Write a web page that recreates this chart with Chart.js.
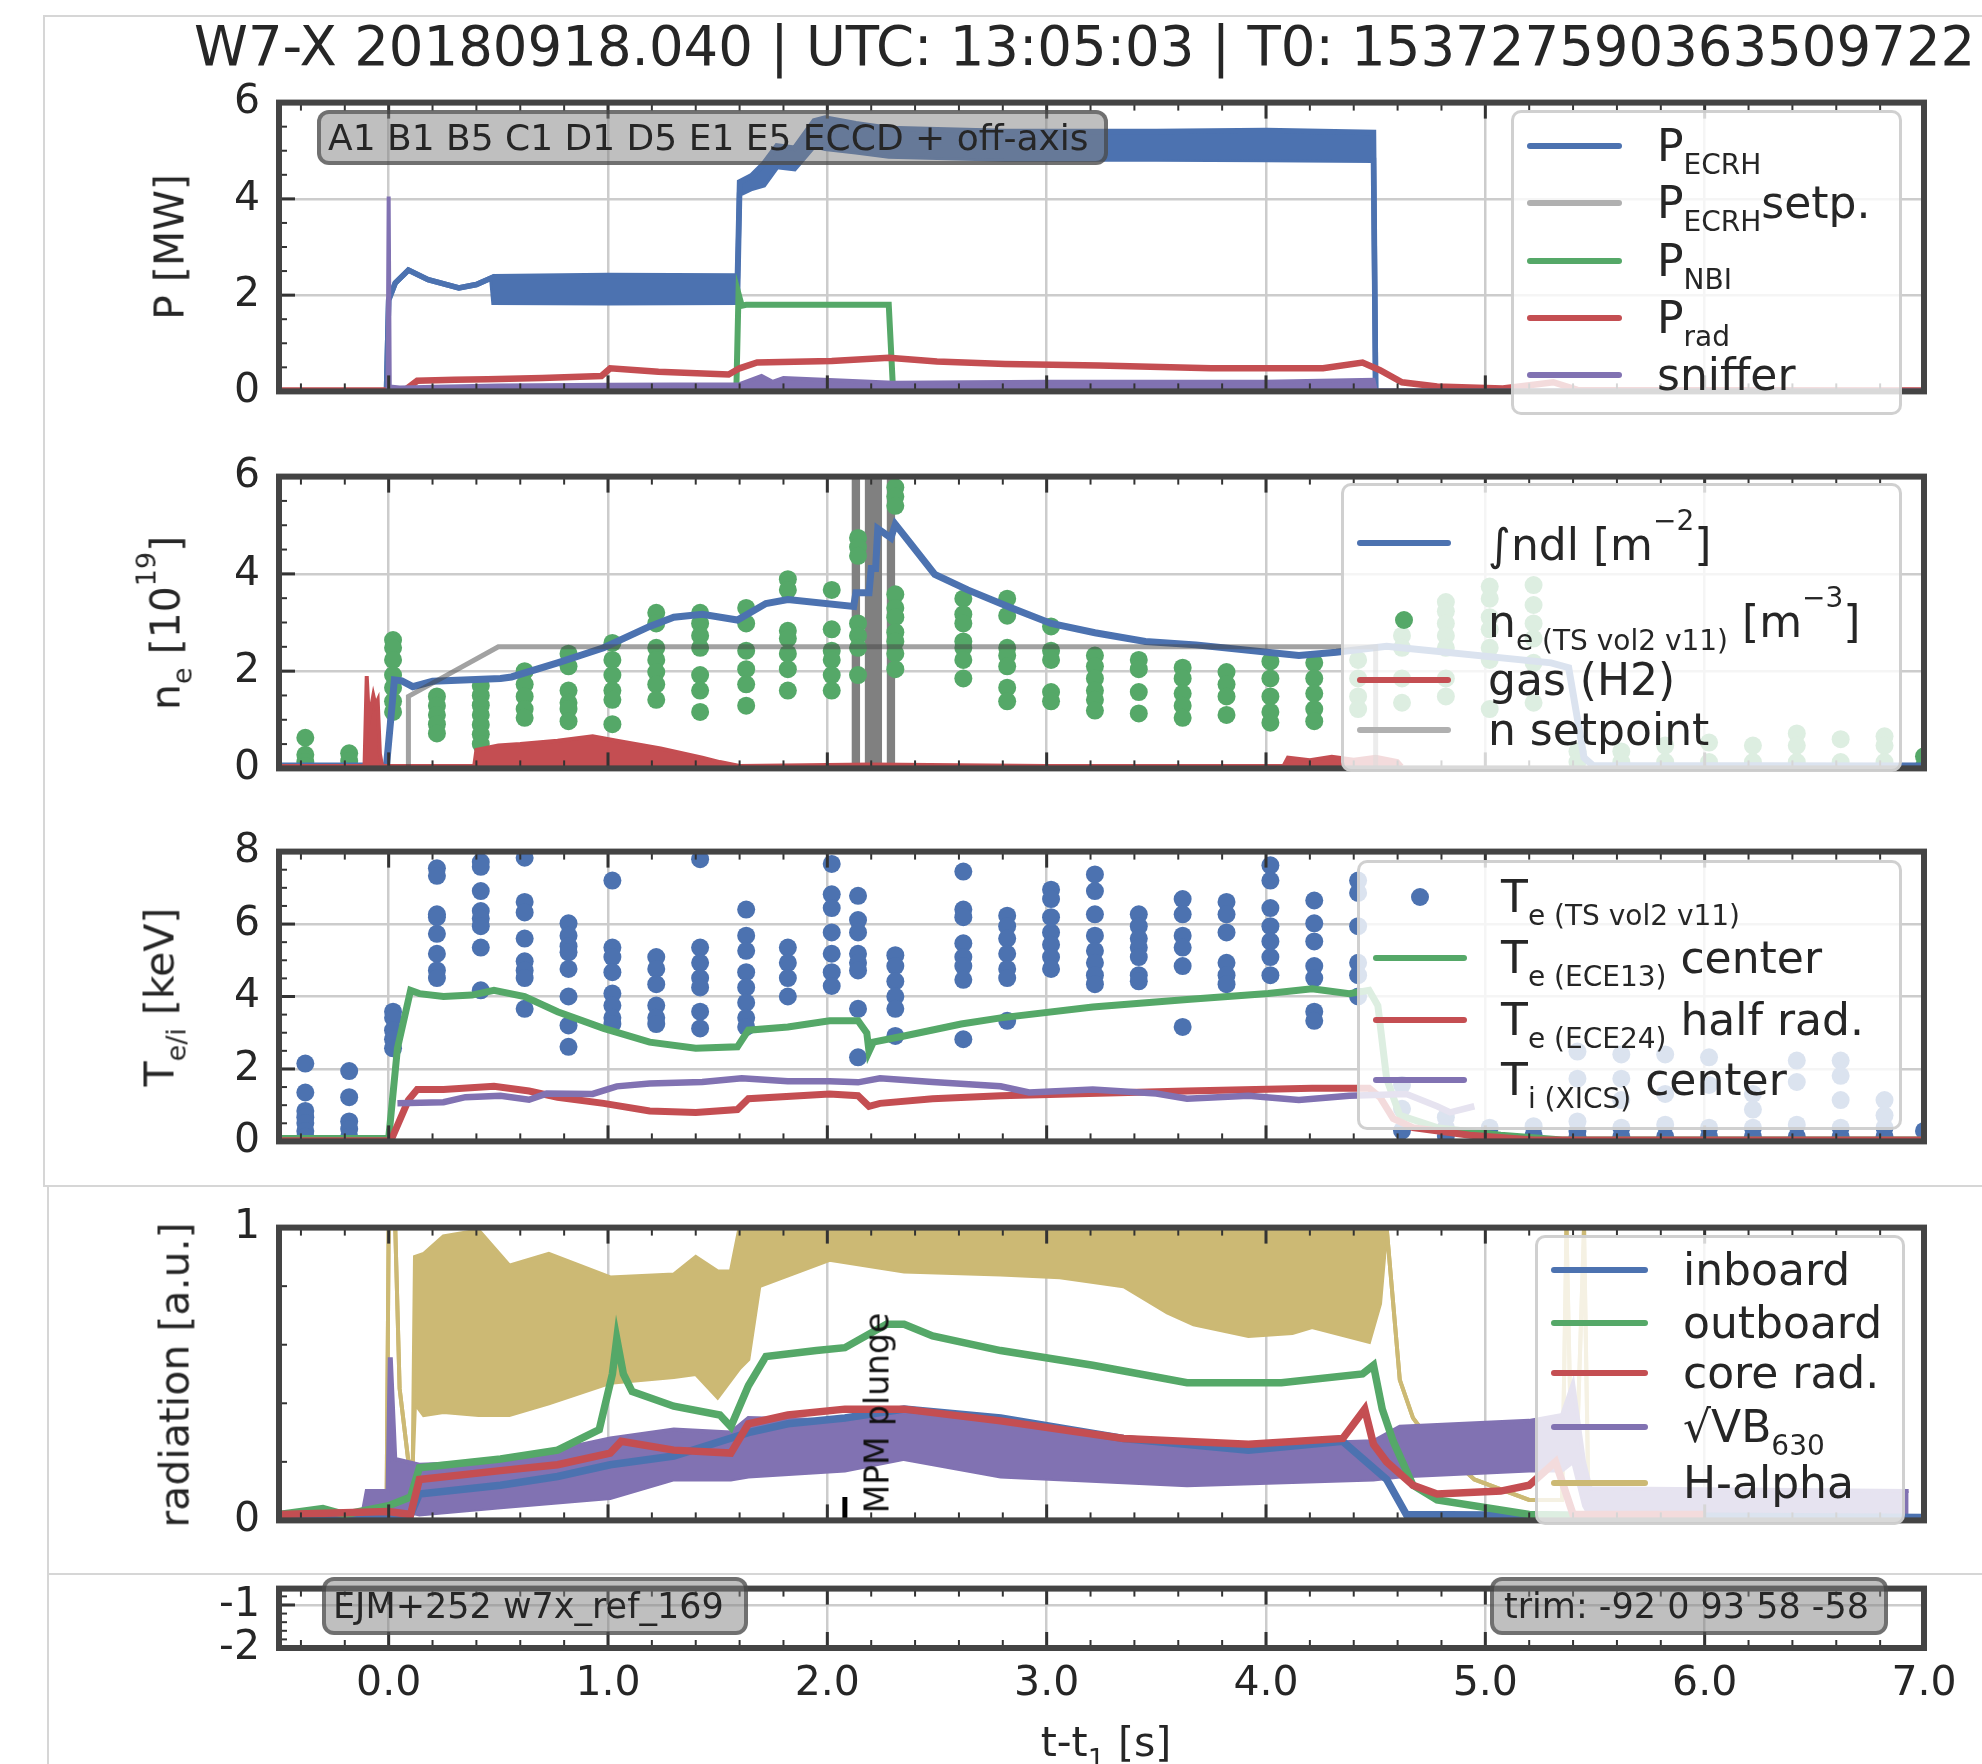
<!DOCTYPE html>
<html>
<head>
<meta charset="utf-8">
<title>W7-X 20180918.040</title>
<script src="https://cdn.jsdelivr.net/npm/chart.js@4.4.1/dist/chart.umd.min.js"></script>
<style>
  html, body { margin: 0; padding: 0; background: #fff; }
  #fig { position: relative; width: 1982px; height: 1764px; overflow: hidden;
         font-family: 'DejaVu Sans', sans-serif; color: #262626; }
  #fig canvas { position: absolute; left: 0; z-index: 1; }
  .sep { position: absolute; background: #d6d6d6; z-index: 0; }
  .ov { position: absolute; z-index: 5; white-space: nowrap; }
  .title { font-size: 54.5px; line-height: 54px; }
  .ylab { font-size: 41px; line-height: 41px; transform: translate(-50%, -50%) rotate(-90deg); }
  .xlab { font-size: 41px; line-height: 41px; transform: translate(-50%, -50%); }
  .ysub { font-size: 27px; line-height: 0; vertical-align: -12px; }
  .ysup { font-size: 27px; line-height: 0; vertical-align: 24px; }
  .lg { position: absolute; z-index: 5; background: rgba(255,255,255,0.8);
        border: 3px solid rgba(200,200,200,0.85); border-radius: 10px; box-sizing: border-box; }
  .en { position: absolute; z-index: 6; font-size: 44px; line-height: 44px; white-space: nowrap; }
  .hd { position: absolute; z-index: 6; height: 6px; border-radius: 3px; }
  .mk { position: absolute; z-index: 6; width: 18px; height: 18px; border-radius: 50%; }
  .sub { font-size: 28px; line-height: 0; vertical-align: -13px; }
  .sup { font-size: 28px; line-height: 0; vertical-align: 30px; }
  .note { position: absolute; z-index: 5; background: rgba(128,128,128,0.5);
          border: 4px solid rgba(60,60,60,0.6); border-radius: 12px; box-sizing: border-box;
          padding-left: 7px; white-space: nowrap; }
  .mpm { font-size: 33px; line-height: 33px; transform: translate(-50%, -50%) rotate(-90deg); color: #111; }
</style>
</head>
<body>
<div id="fig">
  <!-- light frame lines of the original figure -->
  <div class="sep" style="left:44px;top:15px;width:1938px;height:2px"></div>
  <div class="sep" style="left:43px;top:15px;width:2px;height:1172px"></div>
  <div class="sep" style="left:44px;top:1185px;width:1938px;height:2px"></div>
  <div class="sep" style="left:47px;top:1186px;width:2px;height:578px"></div>
  <div class="sep" style="left:48px;top:1573px;width:1934px;height:2px"></div>

  <div class="ov title" style="left:194px;top:19px">W7-X 20180918.040 | UTC: 13:05:03 | T0: 153727590363509722</div>

  <div class="ov ylab" style="left:170px;top:247px">P [MW]</div>
  <div class="ov ylab" style="left:166px;top:623px">n<span class="ysub">e</span> [10<span class="ysup">19</span>]</div>
  <div class="ov ylab" style="left:160px;top:997px">T<span class="ysub">e/i</span> [keV]</div>
  <div class="ov ylab" style="left:175px;top:1375px">radiation [a.u.]</div>
  <div class="ov xlab" style="left:1106px;top:1742px">t-t<span class="ysub">1</span> [s]</div>

  <div class="note" style="left:317px;top:110px;width:791px;height:55px;font-size:36px;line-height:47px">A1 B1 B5 C1 D1 D5 E1 E5 ECCD + off-axis</div>
  <div class="note" style="left:322px;top:1577px;width:426px;height:58px;font-size:35px;line-height:50px">EJM+252 w7x_ref_169</div>
  <div class="note" style="left:1490px;top:1577px;width:398px;height:58px;font-size:35px;line-height:50px;padding-left:10px">trim: -92 0 93 58 -58</div>

  <!-- legend: power -->
  <div class="lg" style="left:1511px;top:110px;width:391px;height:305px"></div>
  <div class="hd" style="left:1527px;top:143px;width:95px;background:#4c72b0"></div>
  <div class="en" style="left:1657px;top:124px">P<span class="sub">ECRH</span></div>
  <div class="hd" style="left:1527px;top:200px;width:95px;background:#b0b0b0"></div>
  <div class="en" style="left:1657px;top:181px">P<span class="sub">ECRH</span>setp.</div>
  <div class="hd" style="left:1527px;top:258px;width:95px;background:#55a868"></div>
  <div class="en" style="left:1657px;top:239px">P<span class="sub">NBI</span></div>
  <div class="hd" style="left:1527px;top:315px;width:95px;background:#c44e52"></div>
  <div class="en" style="left:1657px;top:296px">P<span class="sub">rad</span></div>
  <div class="hd" style="left:1527px;top:372px;width:95px;background:#8172b2"></div>
  <div class="en" style="left:1657px;top:353px">sniffer</div>

  <!-- legend: density -->
  <div class="lg" style="left:1341px;top:483px;width:561px;height:289px"></div>
  <div class="hd" style="left:1357px;top:540px;width:94px;background:#4c72b0"></div>
  <div class="en" style="left:1488px;top:521px">∫ndl [m<span class="sup">−2</span>]</div>
  <div class="mk" style="left:1395px;top:611px;background:#55a868"></div>
  <div class="en" style="left:1488px;top:598px">n<span class="sub">e (TS vol2 v11)</span> [m<span class="sup">−3</span>]</div>
  <div class="hd" style="left:1357px;top:677px;width:94px;background:#c44e52"></div>
  <div class="en" style="left:1488px;top:658px">gas (H2)</div>
  <div class="hd" style="left:1357px;top:727px;width:94px;background:#b0b0b0"></div>
  <div class="en" style="left:1488px;top:708px">n setpoint</div>

  <!-- legend: temperature -->
  <div class="lg" style="left:1357px;top:860px;width:545px;height:270px"></div>
  <div class="mk" style="left:1411px;top:888px;background:#4c72b0"></div>
  <div class="en" style="left:1501px;top:875px">T<span class="sub">e (TS vol2 v11)</span></div>
  <div class="hd" style="left:1373px;top:955px;width:94px;background:#55a868"></div>
  <div class="en" style="left:1501px;top:936px">T<span class="sub">e (ECE13)</span> center</div>
  <div class="hd" style="left:1373px;top:1017px;width:94px;background:#c44e52"></div>
  <div class="en" style="left:1501px;top:998px">T<span class="sub">e (ECE24)</span> half rad.</div>
  <div class="hd" style="left:1373px;top:1077px;width:94px;background:#8172b2"></div>
  <div class="en" style="left:1501px;top:1058px">T<span class="sub">i (XICS)</span> center</div>

  <!-- legend: radiation -->
  <div class="lg" style="left:1535px;top:1235px;width:370px;height:290px"></div>
  <div class="hd" style="left:1551px;top:1267px;width:97px;background:#4c72b0"></div>
  <div class="en" style="left:1683px;top:1248px">inboard</div>
  <div class="hd" style="left:1551px;top:1320px;width:97px;background:#55a868"></div>
  <div class="en" style="left:1683px;top:1301px">outboard</div>
  <div class="hd" style="left:1551px;top:1370px;width:97px;background:#c44e52"></div>
  <div class="en" style="left:1683px;top:1351px">core rad.</div>
  <div class="hd" style="left:1551px;top:1424px;width:97px;background:#8172b2"></div>
  <div class="en" style="left:1683px;top:1405px">√VB<span class="sub">630</span></div>
  <div class="hd" style="left:1551px;top:1480px;width:97px;background:#ccb974"></div>
  <div class="en" style="left:1683px;top:1461px">H-alpha</div>

  <div class="ov mpm" id="mpmLabel">MPM plunge</div>
</div>

<script>
// ---------------------------------------------------------------
// Data (time t - t1 in s)
// ---------------------------------------------------------------
const xTicks = [0, 1, 2, 3, 4, 5, 6, 7];

// Panel 1: heating power [MW]
const ecrhT  = [-0.5, -0.01, 0.0, 0.03, 0.09, 0.18, 0.32, 0.40, 0.47, 0.48, 1.0, 1.59, 1.60, 1.655, 1.71, 1.77, 1.85, 1.94, 1.99, 2.13, 2.28, 2.81, 3.5, 4.0, 4.49, 4.50, 7.0];
const ecrhHi = [0, 0, 1.9, 2.25, 2.52, 2.32, 2.15, 2.22, 2.36, 2.38, 2.41, 2.4, 4.35, 4.48, 4.73, 5.1, 5.05, 5.62, 5.68, 5.56, 5.46, 5.4, 5.4, 5.42, 5.38, 0, 0];
const ecrhLo = [0, 0, 1.9, 2.25, 2.52, 2.32, 2.15, 2.22, 2.36, 1.85, 1.84, 1.85, 4.1, 4.22, 4.29, 4.67, 4.63, 5.11, 5.05, 4.98, 4.89, 4.83, 4.83, 4.82, 4.8, 0, 0];
const nbiT   = [1.585, 1.595, 1.61, 1.63, 2.28, 2.30];
const nbiP   = [0, 2.03, 1.78, 1.8, 1.8, 0];
const pradT  = [-0.5, 0.05, 0.08, 0.13, 0.3, 0.45, 0.7, 0.97, 1.01, 1.23, 1.55, 1.6, 1.68, 2.02, 2.28, 2.5, 2.81, 3.24, 3.75, 4.26, 4.44, 4.52, 4.62, 4.78, 5.08, 5.31, 5.42, 7.0];
const pradP  = [0.02, 0.02, 0.05, 0.22, 0.24, 0.25, 0.28, 0.32, 0.48, 0.41, 0.35, 0.48, 0.6, 0.63, 0.7, 0.62, 0.57, 0.54, 0.48, 0.48, 0.6, 0.44, 0.19, 0.1, 0.06, 0.19, 0.03, 0.02];
const snifT  = [-0.5, -0.005, 0.0, 0.005, 0.05, 0.5, 1.0, 1.6, 1.7, 1.75, 1.8, 2.3, 3.0, 4.0, 4.49, 4.5, 7.0];
const snifP  = [0, 0, 4.05, 0.1, 0.08, 0.12, 0.14, 0.15, 0.32, 0.2, 0.28, 0.18, 0.2, 0.2, 0.24, 0.02, 0.02];

// Panel 2: density [1e19]
const ndlT = [-0.5, -0.01, 0.026, 0.06, 0.11, 0.2, 0.51, 0.56, 0.77, 0.98, 1.19, 1.3, 1.43, 1.59, 1.72, 1.82, 2.12, 2.13, 2.19, 2.2, 2.22, 2.23, 2.29, 2.31, 2.38, 2.49, 2.64, 2.84, 3.02, 3.22, 3.45, 3.68, 4.15, 4.32, 4.55, 5.3, 5.38, 5.45, 5.49, 7.0];
const ndlV = [0.05, 0.05, 1.82, 1.8, 1.68, 1.79, 1.85, 1.88, 2.17, 2.48, 2.92, 3.11, 3.17, 3.05, 3.39, 3.47, 3.33, 3.61, 3.61, 4.11, 4.11, 4.93, 4.74, 5.02, 4.62, 3.99, 3.67, 3.3, 2.98, 2.79, 2.61, 2.54, 2.32, 2.39, 2.51, 2.17, 2.07, 0.22, 0.06, 0.05];
const gasT = [-0.5, -0.11, -0.1, -0.09, -0.07, -0.06, -0.05, -0.04, -0.03, 0.39, 0.4, 0.5, 0.6, 0.77, 0.93, 1.04, 1.24, 1.43, 1.51, 1.6, 2.2, 3.0, 4.08, 4.1, 4.2, 4.3, 4.4, 4.5, 4.6, 4.62];
const gasV = [0.05, 0.05, 1.9, 1.0, 1.5, 1.3, 1.4, 0.3, 0.05, 0.05, 0.38, 0.47, 0.5, 0.57, 0.66, 0.57, 0.41, 0.22, 0.13, 0.05, 0.08, 0.05, 0.05, 0.22, 0.17, 0.24, 0.18, 0.24, 0.15, 0.05];
const setT = [-0.5, 0.09, 0.09, 0.5, 4.5, 4.5];
const setV = [0, 0, 1.48, 2.5, 2.5, 0];
const grayBars = [[2.11, 2.15], [2.17, 2.25], [2.27, 2.31]];

// Thomson scattering time slices (shared by panels 2 and 3)
const tsT = [-0.38, -0.18, 0.02, 0.22, 0.42, 0.62, 0.82, 1.02, 1.22, 1.42, 1.63, 1.82, 2.02, 2.14, 2.31, 2.62, 2.82, 3.02, 3.22, 3.42, 3.62, 3.82, 4.02, 4.22, 4.42, 4.62, 4.82, 5.02, 5.22, 5.42, 5.62, 5.82, 6.02, 6.22, 6.42, 6.62, 6.82, 7.0];
const neTS = [
  [0.63, 0.28, 0.13, 0.05], [0.31, 0.15, 0.05], [2.64, 2.48, 2.23, 1.92, 1.66, 1.38, 1.16],
  [1.48, 1.29, 1.1, 0.91, 0.72], [1.7, 1.5, 1.3, 1.1, 0.9, 0.7, 0.5], [2.0, 1.73, 1.48, 1.22, 1.04],
  [2.36, 2.1, 1.6, 1.35, 1.22, 0.97], [2.58, 2.23, 1.92, 1.6, 1.41, 0.91], [3.2, 2.98, 2.48, 2.23, 1.98, 1.73, 1.41],
  [3.2, 2.98, 2.73, 2.48, 1.92, 1.6, 1.16], [3.3, 2.98, 2.42, 2.04, 1.73, 1.29], [3.89, 3.67, 2.83, 2.67, 2.36, 2.04, 1.6],
  [3.67, 2.86, 2.42, 2.23, 1.92, 1.6], [4.74, 4.55, 4.37, 2.98, 2.73, 2.48, 1.92], [5.78, 5.59, 5.4, 3.58, 3.3, 3.11, 2.8, 2.61, 2.36, 2.04],
  [3.49, 3.17, 2.98, 2.61, 2.48, 2.23, 1.85], [3.49, 3.14, 2.48, 2.32, 2.1, 1.66, 1.38], [2.92, 2.42, 2.23, 1.57, 1.38],
  [2.32, 2.1, 1.85, 1.6, 1.41, 1.19], [2.23, 2.04, 1.57, 1.13], [2.07, 1.85, 1.54, 1.29, 1.04],
  [1.98, 1.73, 1.48, 1.1], [2.2, 1.85, 1.48, 1.16, 0.94], [2.17, 1.85, 1.54, 1.22, 0.97],
  [2.23, 1.85, 1.48, 1.22], [2.73, 2.48, 1.85, 1.35], [3.42, 3.23, 2.98, 2.73, 2.48, 1.85, 1.48],
  [3.74, 3.49, 3.11, 2.86, 2.48, 2.23, 1.22], [3.77, 3.36, 2.98, 2.67, 2.17, 1.35], [0.35, 0.13],
  [0.35, 0.13], [0.47, 0.13], [0.53, 0.13], [0.47, 0.13], [0.72, 0.47, 0.13], [0.6, 0.13], [0.66, 0.47, 0.13], [0.25, 0.05]
];
const teTS = [
  [2.15, 1.35, 0.84, 0.67, 0.51, 0.29, 0.13], [1.94, 1.22, 0.55, 0.34, 0.13], [3.58, 3.41, 3.07, 2.82, 2.57],
  [7.54, 7.33, 6.27, 6.19, 5.73, 5.18, 4.72, 4.51], [7.71, 7.58, 6.91, 6.36, 6.15, 5.94, 5.35, 4.17], [7.83, 6.61, 6.32, 5.6, 4.97, 4.72, 4.51, 3.66],
  [6.02, 5.68, 5.39, 5.22, 4.76, 4.0, 3.2, 2.61], [7.2, 5.35, 5.09, 4.67, 4.08, 3.75, 3.41, 3.24], [5.09, 4.76, 4.34, 3.75, 3.41, 3.24],
  [7.79, 5.35, 4.93, 4.51, 4.25, 3.58, 3.12], [6.4, 5.68, 5.26, 4.67, 4.25, 3.83, 3.41, 3.16], [5.35, 4.93, 4.51, 4.0],
  [7.66, 6.82, 6.44, 5.77, 5.18, 4.67, 4.29], [6.78, 6.11, 5.77, 5.18, 4.93, 4.72, 3.66, 2.32], [5.14, 4.84, 4.42, 4.0, 3.66, 2.91],
  [7.45, 6.4, 6.19, 5.47, 5.09, 4.84, 4.46, 2.82], [6.23, 5.94, 5.6, 5.18, 4.76, 4.51, 3.33], [6.95, 6.69, 6.19, 5.77, 5.43, 5.09, 4.76],
  [7.37, 6.91, 6.27, 5.68, 5.26, 4.93, 4.59, 4.34], [6.27, 5.94, 5.6, 5.35, 5.09, 4.59, 4.42], [6.69, 6.27, 5.68, 5.35, 4.84, 3.16],
  [6.61, 6.27, 5.77, 4.93, 4.59, 4.34], [7.62, 7.2, 6.44, 5.94, 5.52, 5.09, 4.59], [6.65, 6.02, 5.52, 4.84, 4.51, 3.58, 3.33],
  [7.2, 6.86, 5.94, 4.93, 4.59, 4.0], [1.56, 0.9, 0.3], [0.67, 0.38, 0.15],
  [0.38, 0.13], [0.42, 0.17], [2.48, 1.73, 0.55, 0.29, 0.13],
  [2.4, 1.73, 1.14, 0.38, 0.13], [2.4, 1.31, 0.46, 0.13], [2.32, 1.56, 0.38, 0.13], [1.31, 0.88, 0.38, 0.13],
  [2.23, 1.64, 0.46, 0.13], [2.23, 1.81, 1.14, 0.38, 0.13], [1.14, 0.72, 0.38, 0.13], [0.29]
];

// Panel 3: temperatures [keV]
const te13T = [-0.5, 0.0, 0.04, 0.1, 0.14, 0.25, 0.38, 0.48, 0.62, 0.77, 0.98, 1.19, 1.4, 1.59, 1.64, 1.82, 2.01, 2.14, 2.18, 2.19, 2.21, 2.35, 2.61, 2.79, 3.21, 3.64, 4.01, 4.21, 4.38, 4.47, 4.51, 4.55, 4.61, 4.78, 5.07, 5.35, 7.0];
const te13V = [0.08, 0.08, 2.57, 4.17, 4.08, 4.0, 4.04, 4.17, 4.0, 3.58, 3.12, 2.74, 2.57, 2.61, 3.07, 3.16, 3.33, 3.33, 2.99, 2.48, 2.74, 2.91, 3.24, 3.41, 3.71, 3.92, 4.08, 4.21, 4.08, 4.17, 3.75, 1.73, 0.72, 0.38, 0.17, 0.04, 0.04];
const te24T = [-0.5, 0.01, 0.09, 0.13, 0.25, 0.48, 0.64, 0.77, 0.98, 1.19, 1.4, 1.59, 1.64, 2.01, 2.14, 2.19, 2.24, 2.48, 2.79, 3.64, 4.21, 4.47, 4.52, 4.58, 4.67, 4.93, 5.22, 7.0];
const te24V = [0.02, 0.02, 1.14, 1.43, 1.43, 1.52, 1.39, 1.22, 1.05, 0.84, 0.8, 0.88, 1.18, 1.31, 1.26, 0.97, 1.05, 1.18, 1.26, 1.39, 1.47, 1.47, 1.22, 0.63, 0.38, 0.17, 0.04, 0.04];
const tiT   = [0.04, 0.25, 0.35, 0.51, 0.64, 0.72, 0.93, 1.04, 1.19, 1.43, 1.61, 1.82, 2.01, 2.14, 2.24, 2.48, 2.79, 2.92, 3.21, 3.5, 3.64, 3.92, 4.15, 4.38, 4.64, 4.78, 4.84, 4.95];
const tiV   = [1.05, 1.08, 1.22, 1.26, 1.15, 1.32, 1.31, 1.52, 1.6, 1.64, 1.74, 1.66, 1.66, 1.63, 1.74, 1.64, 1.52, 1.35, 1.43, 1.32, 1.18, 1.26, 1.14, 1.26, 1.31, 0.97, 0.8, 0.97];

// Panel 4: radiation [a.u.]
const ibT  = [-0.5, 0.1, 0.14, 0.51, 0.77, 1.01, 1.3, 1.64, 1.82, 2.08, 2.35, 2.79, 3.35, 3.92, 4.35, 4.55, 4.64, 7.0];
const ibV  = [0.02, 0.02, 0.09, 0.12, 0.15, 0.19, 0.22, 0.3, 0.33, 0.35, 0.38, 0.35, 0.28, 0.24, 0.27, 0.14, 0.02, 0.01];
const obT  = [-0.5, -0.3, -0.2, 0.0, 0.1, 0.14, 0.51, 0.77, 0.96, 1.02, 1.04, 1.07, 1.11, 1.3, 1.51, 1.56, 1.64, 1.72, 1.95, 2.08, 2.27, 2.35, 2.48, 2.79, 3.21, 3.64, 4.07, 4.44, 4.49, 4.53, 4.58, 4.67, 4.78, 5.2, 6.0];
const obV  = [0.02, 0.04, 0.02, 0.05, 0.08, 0.18, 0.21, 0.24, 0.31, 0.5, 0.62, 0.5, 0.44, 0.39, 0.36, 0.32, 0.46, 0.56, 0.58, 0.59, 0.67, 0.67, 0.63, 0.58, 0.53, 0.47, 0.47, 0.5, 0.53, 0.38, 0.27, 0.12, 0.07, 0.02, 0.01];
const crT  = [-0.5, 0.0, 0.1, 0.14, 0.51, 0.77, 1.01, 1.06, 1.3, 1.56, 1.64, 1.82, 2.08, 2.35, 2.79, 3.35, 3.92, 4.35, 4.45, 4.49, 4.55, 4.67, 4.78, 5.07, 5.2, 5.32, 5.4, 6.0];
const crV  = [0.02, 0.03, 0.02, 0.14, 0.17, 0.19, 0.23, 0.27, 0.24, 0.23, 0.33, 0.36, 0.38, 0.38, 0.34, 0.28, 0.26, 0.28, 0.38, 0.26, 0.2, 0.12, 0.09, 0.1, 0.12, 0.2, 0.02, 0.02];
const vbT  = [-0.5, -0.12, -0.1, -0.005, 0.005, 0.01, 0.03, 0.14, 0.51, 1.01, 1.3, 1.56, 1.64, 2.08, 2.35, 2.79, 3.64, 4.49, 4.61, 5.2, 5.35, 5.4, 5.45, 5.48, 6.93];
const vbHi = [0.02, 0.02, 0.1, 0.1, 0.55, 0.55, 0.21, 0.19, 0.2, 0.28, 0.31, 0.3, 0.35, 0.34, 0.37, 0.34, 0.25, 0.27, 0.32, 0.34, 0.36, 0.47, 0.2, 0.11, 0.1];
const vbLo = [0.01, 0.01, 0.02, 0.02, 0.05, 0.05, 0.04, 0.02, 0.045, 0.076, 0.14, 0.14, 0.15, 0.17, 0.21, 0.15, 0.12, 0.14, 0.15, 0.17, 0.17, 0.2, 0.05, 0.01, 0.01];
const haT  = [-0.5, -0.01, 0.0, 0.03, 0.05, 0.09, 0.11, 0.12, 0.16, 0.25, 0.41, 0.55, 0.73, 1.01, 1.3, 1.4, 1.5, 1.56, 1.6, 1.64, 1.69, 2.01, 2.35, 2.79, 3.06, 3.35, 3.55, 3.67, 3.92, 4.12, 4.21, 4.47, 4.52, 4.55, 4.61, 4.67, 4.72, 4.95, 5.2, 5.35, 5.37, 5.39, 5.42, 5.45, 5.47, 5.49, 5.52, 7.0];
const haHi = [0, 0, 1.0, 1.0, 0.45, 0.2, 0.2, 0.9, 0.91, 0.97, 0.99, 0.87, 0.91, 0.83, 0.84, 0.9, 0.85, 0.85, 1.0, 1.0, 1.0, 1.0, 1.0, 1.0, 1.0, 1.0, 1.0, 1.0, 1.0, 1.0, 1.0, 1.0, 1.0, 1.0, 0.48, 0.35, 0.3, 0.14, 0.07, 0.07, 1.0, 0.3, 0.3, 1.0, 0.07, 0.02, 0, 0];
const haLo = [0, 0, 1.0, 1.0, 0.45, 0.2, 0.2, 0.4, 0.36, 0.37, 0.36, 0.36, 0.4, 0.47, 0.49, 0.5, 0.42, 0.48, 0.52, 0.55, 0.8, 0.89, 0.85, 0.84, 0.83, 0.8, 0.71, 0.67, 0.63, 0.64, 0.66, 0.61, 0.74, 1.0, 0.48, 0.35, 0.3, 0.14, 0.07, 0.07, 1.0, 0.3, 0.3, 1.0, 0.07, 0.02, 0, 0];
const mpmT = 2.08;

// ---------------------------------------------------------------
// Layout
// ---------------------------------------------------------------
const X_MIN = -0.5, X_MAX = 7.0;
const AX_LEFT = 279, AX_RIGHT = 1924, PAD = 30;
const panelBox = [[89, 405], [463, 782], [838, 1155], [1214, 1534], [1575, 1648]];
const C = { blue: '#4c72b0', green: '#55a868', red: '#c44e52', purple: '#8172b2', gold: '#ccb974' };

Chart.defaults.font.family = "'DejaVu Sans', sans-serif";
Chart.defaults.color = '#262626';

const pts = (t, v) => t.map((x, i) => ({ x, y: v[i] }));
function line(t, v, color, width, extra) {
  return Object.assign({ type: 'line', data: pts(t, v), borderColor: color, backgroundColor: color,
    borderWidth: width || 5.5, pointRadius: 0, tension: 0, fill: false }, extra || {});
}
function dots(t, cols, color) {
  const d = [];
  t.forEach((x, i) => cols[i].forEach(y => d.push({ x, y })));
  return { type: 'scatter', data: d, backgroundColor: color, borderWidth: 0, pointRadius: 9 };
}

// spines and inward ticks, matplotlib style
const framePlugin = {
  id: 'frame',
  afterDatasetsDraw(chart, args, o) {
    const { ctx, chartArea: a } = chart;
    const xs = chart.scales.x, ys = chart.scales.y;
    ctx.save();
    ctx.strokeStyle = '#333333';
    const seg = (x0, y0, x1, y1, w) => { ctx.lineWidth = w; ctx.beginPath(); ctx.moveTo(x0, y0); ctx.lineTo(x1, y1); ctx.stroke(); };
    for (let i = Math.ceil(X_MIN / 0.2); i <= Math.round(X_MAX / 0.2); i++) {
      const px = xs.getPixelForValue(i * 0.2);
      const major = i % 5 === 0;
      const len = major ? 16 : 8, w = major ? 3 : 2;
      seg(px, a.top, px, a.top + len, w);
      seg(px, a.bottom, px, a.bottom - len, w);
    }
    const k0 = Math.ceil(o.yMin / o.yMinor - 1e-6), k1 = Math.floor(o.yMax / o.yMinor + 1e-6);
    for (let k = k0; k <= k1; k++) {
      const v = k * o.yMinor;
      const major = o.yTicks.some(t => Math.abs(t - v) < 1e-6);
      const py = ys.getPixelForValue(v);
      seg(a.left, py, a.left + (major ? 16 : 8), py, major ? 3 : 2);
    }
    ctx.lineWidth = 6;
    ctx.strokeStyle = '#444444';
    ctx.strokeRect(a.left, a.top, a.right - a.left, a.bottom - a.top);
    ctx.restore();
  }
};
Chart.register(framePlugin);

const fig = document.getElementById('fig');
function makePanel(idx, p) {
  const [top, bottom] = panelBox[idx];
  const c = document.createElement('canvas');
  c.width = 1982;
  c.height = PAD + (bottom - top) + (p.showX ? 70 : PAD);
  c.style.top = (top - PAD) + 'px';
  fig.appendChild(c);
  return new Chart(c, {
    type: 'line',
    data: { datasets: p.datasets },
    options: {
      responsive: false,
      animation: false,
      devicePixelRatio: 1,
      layout: { padding: { top: PAD, bottom: p.showX ? 10 : PAD, left: 0, right: 1982 - AX_RIGHT } },
      plugins: {
        legend: { display: false },
        tooltip: { enabled: false },
        frame: { yMin: p.yMin, yMax: p.yMax, yMinor: p.yMinor, yTicks: p.yTicks }
      },
      scales: {
        x: {
          type: 'linear', min: X_MIN, max: X_MAX,
          border: { display: false },
          grid: { color: '#cccccc', lineWidth: 2.5, drawTicks: false },
          ticks: { display: !!p.showX, font: { size: 41 }, padding: 12, autoSkip: false, maxRotation: 0,
                   callback: v => Number(v).toFixed(1) },
          afterBuildTicks: a => { a.ticks = xTicks.map(v => ({ value: v })); },
          afterFit: a => { a.height = p.showX ? 60 : 0; }
        },
        y: {
          type: 'linear', min: p.yMin, max: p.yMax,
          border: { display: false },
          grid: { color: '#cccccc', lineWidth: 2.5, drawTicks: false },
          ticks: { font: { size: 41 }, padding: 19, autoSkip: false },
          afterBuildTicks: a => { a.ticks = p.yTicks.map(v => ({ value: v })); },
          afterFit: a => { a.width = AX_LEFT; }
        }
      }
    }
  });
}

// Panel 1 (first dataset drawn on top)
makePanel(0, {
  yMin: 0, yMax: 6, yTicks: [0, 2, 4, 6], yMinor: 0.5,
  datasets: [
    line(snifT, snifP, C.purple, 4, { fill: 'origin' }),
    line(pradT, pradP, C.red, 6.5),
    line(nbiT, nbiP, C.green, 6),
    line(ecrhT, ecrhHi, C.blue, 5.5, { fill: 4 }),
    line(ecrhT, ecrhLo, C.blue, 5.5)
  ]
});

// Panel 2
const barSets = grayBars.map(([a, b]) => ({
  type: 'line', data: [{ x: a, y: 0 }, { x: a, y: 6 }, { x: b, y: 6 }, { x: b, y: 0 }],
  borderWidth: 0, pointRadius: 0, fill: 'origin', backgroundColor: '#808080', borderColor: '#808080'
}));
makePanel(1, {
  yMin: 0, yMax: 6, yTicks: [0, 2, 4, 6], yMinor: 0.5,
  datasets: [
    line(setT, setV, 'rgba(70,70,70,0.5)', 5),
    line(gasT, gasV, C.red, 4, { fill: 'origin' }),
    line(ndlT, ndlV, C.blue, 7),
    dots(tsT, neTS, C.green)
  ].concat(barSets)
});

// Panel 3
makePanel(2, {
  yMin: 0, yMax: 8, yTicks: [0, 2, 4, 6, 8], yMinor: 0.5,
  datasets: [
    line(tiT, tiV, C.purple, 6.5),
    line(te24T, te24V, C.red, 7),
    line(te13T, te13V, C.green, 7),
    dots(tsT, teTS, C.blue)
  ]
});

// Panel 4
const chart4 = makePanel(3, {
  yMin: 0, yMax: 1, yTicks: [0, 1], yMinor: 0.2,
  datasets: [
    line([mpmT, mpmT], [0, 0.08], '#000000', 5),
    line(crT, crV, C.red, 7.5),
    line(obT, obV, C.green, 7.5),
    line(ibT, ibV, C.blue, 7.5),
    line(vbT, vbHi, C.purple, 4, { fill: 5 }),
    line(vbT, vbLo, C.purple, 4),
    line(haT, haHi, C.gold, 4, { fill: 7 }),
    line(haT, haLo, C.gold, 4)
  ]
});

// Panel 5 (only axes and the time ticks)
makePanel(4, {
  yMin: -2, yMax: -0.62, yTicks: [-1, -2], yMinor: 0.2, showX: true,
  datasets: []
});

// MPM plunge label next to its marker
const mpmLabel = document.getElementById('mpmLabel');
mpmLabel.style.left = (chart4.scales.x.getPixelForValue(mpmT) + 32) + 'px';
mpmLabel.style.top = '1413px';
</script>
</body>
</html>
